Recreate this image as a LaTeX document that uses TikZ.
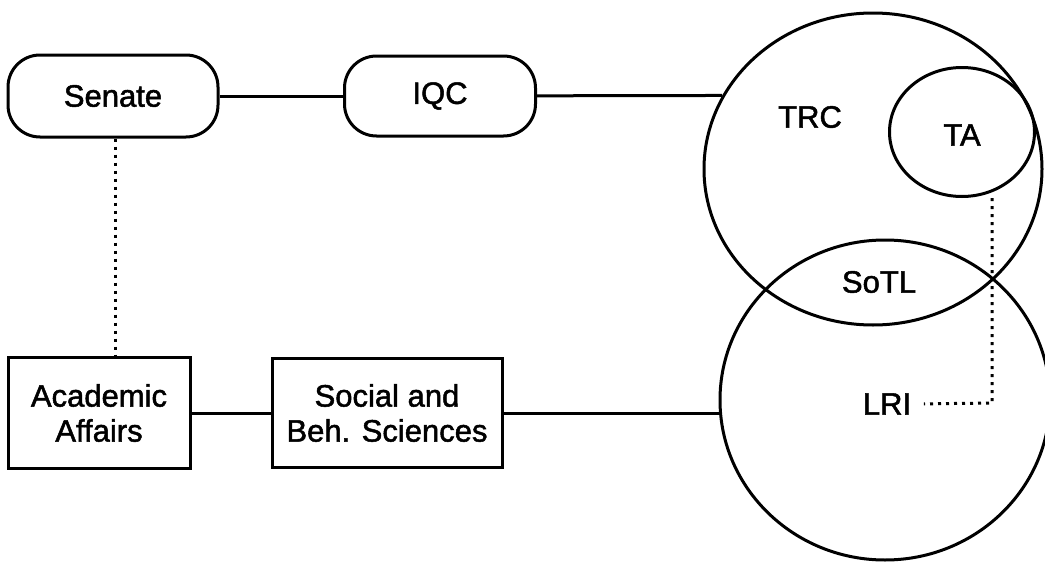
\documentclass[tikz,border=0pt]{standalone}
\usepackage{fontspec}
\setmainfont{Liberation Sans}
\newfontfamily\heavy{Liberation Sans}[FakeBold=1.6]
\usetikzlibrary{shapes.geometric}
\begin{document}
\begin{tikzpicture}[x=1pt,y=-1pt,line width=3pt,
  font=\heavy\fontsize{31}{35}\selectfont,
  pill/.style={draw,rounded corners=32pt,inner sep=0pt},
  unit/.style={draw,align=center,inner sep=0pt},
  blob/.style={draw,ellipse,inner sep=0pt},
  dots/.style={line width=3pt,dash pattern=on 3pt off 5pt}]
\useasboundingbox (0,0) rectangle (1045,562);

% governance
\node[pill,minimum width=210pt,minimum height=82pt] (Senate) at (113,96) {Senate};
\node[pill,minimum width=191pt,minimum height=80pt] (IQC) at (440,96) {IQC};
\node[unit,minimum width=182pt,minimum height=111pt] (AA) at (99,413) {Academic\\Affairs};
\node[unit,minimum width=230pt,minimum height=109pt] (SBS) at (387,413) {Social and\\Beh. Sciences};

% circles
\node[blob,minimum width=338pt,minimum height=312pt] (TRC) at (873,169) {};
\node[blob,minimum width=145pt,minimum height=129pt] (TA) at (962,132) {};
\node[blob,minimum width=330pt,minimum height=320pt] (LRI) at (885,400) {};
\node (trc) at (810,117) {TRC};
\node (ta) at (962,135) {TA};
\node (sotl) at (879,282) {SoTL};
\node (lri) at (887,404) {LRI};

\draw (Senate) -- (IQC);
\draw (IQC) -- (TRC.154);
\draw (AA) -- (SBS);
\draw (SBS) -- (SBS -| LRI.west);
\draw[dots] (Senate.south -| 115,0) -- (AA.north -| 115,0);

\coordinate (tafoot) at (992,198);
\coordinate (bend) at (992,403);
\draw[dots,shorten >=8pt] (tafoot) -- (bend) -- (lri.east);
\end{tikzpicture}
\end{document}
